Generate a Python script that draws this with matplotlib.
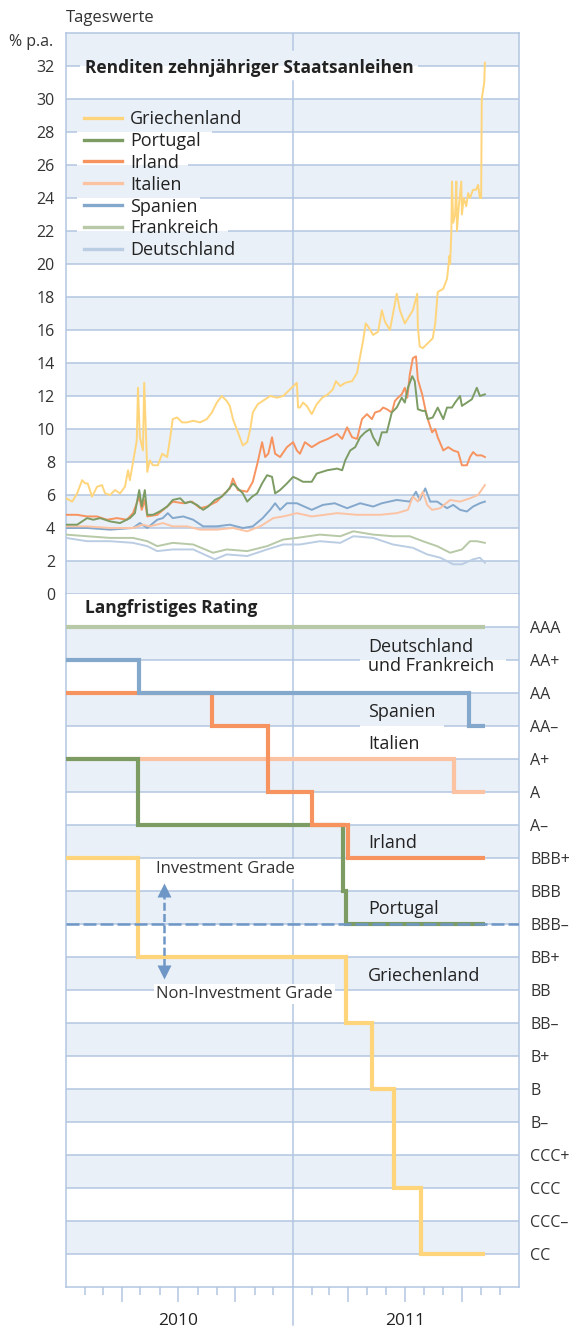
import numpy as np
import pandas as pd
import matplotlib
matplotlib.use('Agg')
import matplotlib.pyplot as plt
from matplotlib.lines import Line2D

plt.rcParams['font.family'] = ['Open Sans', 'DejaVu Sans']

# Renditen zehnjaehriger Staatsanleihen, Tage seit 1.1.2010 / % p.a.
gr_days = [0, 10, 18, 26, 31, 35, 42, 50, 58, 63, 71, 79, 87, 95, 100, 103, 108, 114, 116, 119,
           124, 126, 131, 135, 140, 148, 155, 163, 168, 172, 179, 187, 195, 205, 216, 227, 235,
           243, 251, 259, 264, 269, 277, 285, 292, 297, 301, 309, 317, 329, 340, 350, 361, 372,
           374, 377, 382, 388, 396, 404, 413, 422, 430, 435, 442, 450, 461, 469, 474, 479, 483,
           487, 495, 503, 509, 514, 522, 527, 533, 538, 546, 551, 559, 566, 567, 570, 575, 583,
           591, 595, 599, 608, 614, 618, 619, 621, 622, 624, 627, 629, 630, 633, 637, 638, 641,
           645, 648, 651, 656, 661, 664, 667, 669, 670, 672, 674, 675]
gr_vals = [5.8, 5.6, 6.1, 6.9, 6.7, 6.7, 5.9, 6.5, 6.6, 6.1, 6.0, 6.3, 6.1, 6.5, 7.5, 6.9, 8.0, 9.3, 12.5, 9.5,
           8.7, 12.8, 7.4, 8.1, 7.8, 7.8, 8.5, 8.3, 9.5, 10.6, 10.7, 10.4, 10.4, 10.5, 10.4, 10.6, 11.0,
           11.6, 12.0, 11.7, 11.4, 10.6, 9.8, 9.0, 9.2, 10.0, 11.0, 11.5, 11.7, 12.0, 11.9, 12.0, 12.4, 12.8,
           11.3, 11.3, 11.6, 11.4, 10.9, 11.5, 11.9, 12.1, 12.4, 12.9, 12.6, 12.8, 12.9, 13.4, 14.4, 15.4, 16.4,
           16.2, 15.7, 15.9, 17.2, 16.5, 16.0, 17.0, 18.2, 17.2, 16.4, 16.7, 17.2, 18.2, 16.2, 15.0, 14.9, 15.2,
           15.5, 16.4, 18.3, 18.5, 19.1, 20.5, 20.0, 22.0, 25.0, 22.5, 23.0, 25.0, 22.0, 23.5, 25.0, 23.0, 24.0,
           23.5, 24.3, 24.0, 24.5, 24.5, 24.8, 24.0, 24.0, 30.0, 30.5, 31.0, 32.2]

pt_days = [0, 18, 34, 44, 55, 71, 87, 103, 111, 118, 122, 127, 131, 140, 151, 163, 172, 184, 192, 200,
           211, 221, 229, 240, 251, 259, 269, 277, 285, 292, 300, 308, 316, 324, 332, 337, 345, 356,
           366, 372, 382, 396, 404, 421, 437, 445, 450, 458, 466, 474, 482, 490, 495, 503, 509, 517,
           525, 533, 541, 546, 551, 558, 562, 567, 574, 579, 583, 591, 599, 608, 614, 622, 627, 635,
           638, 646, 654, 662, 667, 675]
pt_vals = [4.2, 4.2, 4.6, 4.5, 4.6, 4.4, 4.3, 4.6, 4.9, 6.3, 5.3, 6.3, 4.8, 4.8, 5.0, 5.3, 5.7, 5.8, 5.5, 5.6,
           5.4, 5.1, 5.3, 5.7, 5.9, 6.2, 6.7, 6.4, 6.1, 5.6, 5.9, 6.1, 6.7, 7.2, 7.1, 6.1, 6.3, 6.7,
           7.1, 7.0, 6.8, 6.8, 7.3, 7.5, 7.6, 7.5, 8.1, 8.7, 8.9, 9.5, 9.8, 10.0, 9.5, 9.0, 9.8, 9.8,
           11.0, 11.3, 11.9, 11.6, 12.5, 13.2, 12.9, 11.2, 11.1, 11.1, 10.6, 10.7, 11.3, 10.6, 11.3, 11.3, 11.6, 12.0,
           11.4, 11.6, 11.8, 12.5, 12.0, 12.1]

ie_days = [0, 18, 34, 50, 66, 82, 98, 108, 118, 122, 127, 131, 147, 163, 172, 189, 203, 216, 227, 243,
           253, 264, 269, 277, 292, 301, 309, 316, 321, 326, 332, 337, 345, 356, 366, 372, 377, 385,
           396, 409, 422, 437, 445, 453, 461, 469, 477, 485, 493, 498, 506, 511, 517, 525, 530, 535,
           541, 546, 550, 554, 559, 564, 567, 574, 579, 583, 590, 595, 599, 608, 616, 624, 632, 638,
           646, 651, 656, 662, 670, 675]
ie_vals = [4.8, 4.8, 4.7, 4.7, 4.5, 4.6, 4.5, 4.9, 5.9, 5.1, 5.7, 4.7, 4.8, 5.3, 5.6, 5.5, 5.6, 5.2, 5.3, 5.6,
           6.0, 6.4, 7.0, 6.3, 6.2, 6.8, 8.0, 9.2, 8.3, 8.5, 9.5, 8.5, 8.3, 8.9, 9.2, 8.7, 8.5, 9.2,
           8.9, 9.2, 9.4, 9.7, 9.4, 10.1, 9.5, 9.4, 10.6, 10.9, 10.6, 11.0, 11.1, 11.3, 11.2, 11.0, 11.7, 11.9,
           12.1, 12.5, 11.9, 13.3, 14.3, 14.4, 13.0, 12.1, 11.2, 10.6, 9.8, 10.0, 9.5, 8.7, 8.9, 8.7, 8.6, 7.8,
           7.8, 8.3, 8.6, 8.4, 8.4, 8.3]

it_days = [0, 34, 71, 108, 124, 135, 156, 172, 195, 216, 243, 269, 292, 313, 334, 350, 372, 396, 437, 469,
           506, 533, 551, 559, 567, 575, 582, 590, 603, 619, 635, 651, 664, 675]
it_vals = [4.1, 4.1, 4.0, 4.0, 4.2, 4.1, 4.3, 4.1, 4.1, 3.9, 3.9, 4.0, 3.8, 4.1, 4.6, 4.7, 4.9, 4.7, 4.9, 4.8,
           4.8, 4.9, 5.1, 5.9, 5.6, 6.2, 5.4, 5.1, 5.2, 5.7, 5.6, 5.8, 6.0, 6.6]

es_days = [0, 34, 71, 108, 119, 131, 147, 156, 164, 172, 189, 205, 221, 243, 264, 285, 301, 317, 329, 337,
           345, 356, 372, 396, 414, 433, 453, 474, 495, 509, 533, 554, 564, 570, 579, 587, 598, 614,
           624, 635, 646, 656, 667, 675]
es_vals = [4.0, 4.0, 3.9, 4.0, 4.3, 4.0, 4.5, 4.6, 4.9, 4.6, 4.7, 4.5, 4.1, 4.1, 4.2, 4.0, 4.1, 4.6, 5.1, 5.5,
           5.1, 5.5, 5.5, 5.1, 5.4, 5.5, 5.2, 5.5, 5.3, 5.5, 5.7, 5.6, 6.2, 5.7, 6.4, 5.6, 5.6, 5.2,
           5.4, 5.1, 5.0, 5.3, 5.5, 5.6]

fr_days = [0, 34, 71, 108, 131, 147, 172, 205, 237, 259, 292, 324, 350, 372, 409, 442, 463, 495, 527, 554,
           575, 598, 619, 638, 651, 662, 675]
fr_vals = [3.6, 3.5, 3.4, 3.4, 3.2, 2.9, 3.1, 3.0, 2.5, 2.7, 2.6, 2.9, 3.3, 3.4, 3.6, 3.5, 3.8, 3.6, 3.5, 3.5,
           3.2, 2.9, 2.5, 2.7, 3.2, 3.2, 3.1]

de_days = [0, 34, 71, 108, 131, 147, 172, 205, 240, 259, 292, 324, 350, 377, 409, 442, 463, 495, 527, 559,
           582, 603, 624, 638, 656, 667, 675]
de_vals = [3.4, 3.2, 3.2, 3.1, 2.9, 2.6, 2.7, 2.7, 2.1, 2.4, 2.3, 2.7, 3.0, 3.0, 3.2, 3.1, 3.5, 3.4, 3.0, 2.8,
           2.4, 2.2, 1.8, 1.8, 2.1, 2.2, 1.9]

# Langfristiges Rating
ratings = ['AAA', 'AA+', 'AA', 'AA–', 'A+', 'A', 'A–', 'BBB+', 'BBB', 'BBB–',
           'BB+', 'BB', 'BB–', 'B+', 'B', 'B–', 'CCC+', 'CCC', 'CCC–', 'CC']

defr_r_dates = ['2010-01-01', '2011-11-07']
defr_r = ['AAA', 'AAA']
es_r_dates = ['2010-01-01', '2010-04-28', '2011-10-13', '2011-11-07']
es_r = ['AA+', 'AA', 'AA–', 'AA–']
it_r_dates = ['2010-01-01', '2011-09-19', '2011-11-07']
it_r = ['A+', 'A', 'A']
ie_r_dates = ['2010-01-01', '2010-08-24', '2010-11-23', '2011-02-02', '2011-04-01', '2011-11-07']
ie_r = ['AA', 'AA–', 'A', 'A–', 'BBB+', 'BBB+']
pt_r_dates = ['2010-01-01', '2010-04-27', '2011-03-24', '2011-03-29', '2011-11-07']
pt_r = ['A+', 'A–', 'BBB', 'BBB–', 'BBB–']
gr_r_dates = ['2010-01-01', '2010-04-27', '2011-03-29', '2011-05-09', '2011-06-13', '2011-07-27', '2011-11-07']
gr_r = ['BBB+', 'BB+', 'BB–', 'B', 'CCC', 'CC', 'CC']

BAND = '#eaf0f8'
GRID = '#b3c6e1'
TXT = '#222222'
C_GR = '#ffd57c'
C_PT = '#7c9c64'
C_IE = '#f6935f'
C_IT = '#fcc3a3'
C_ES = '#84a8cc'
C_FR = '#b7c9a7'
C_DE = '#bacde3'
C_LINE = '#6e96c6'

base = pd.Timestamp('2010-01-01')


def to_dates(days):
    return base + pd.to_timedelta(days, unit='D')


def px(x):
    # Pixel-Position -> Achsenanteil
    return (x - 66) / 453


def hgrid(ax, y, gaps=()):
    edges = [0.0] + [px(g) for pair in gaps for g in pair] + [1.0]
    for a, b in zip(edges[::2], edges[1::2]):
        ax.plot([a, b], [y, y], transform=ax.get_yaxis_transform(), color=GRID,
                lw=1.1, zorder=1, solid_capstyle='butt')


fig = plt.figure(figsize=(5.71, 13.29), dpi=100)
ax1 = fig.add_axes([66 / 571, (1329 - 594) / 1329, 453 / 571, 561 / 1329])
ax2 = fig.add_axes([66 / 571, (1329 - 1287) / 1329, 453 / 571, 693 / 1329])

x0, x1 = pd.Timestamp('2010-01-01'), pd.Timestamp('2012-01-01')
jan11 = pd.Timestamp('2011-01-01')
for ax in (ax1, ax2):
    ax.set_xlim(x0, x1)
    for s in ax.spines.values():
        s.set_color(GRID)
        s.set_linewidth(1.1)

# ---------- oberer Teil: Renditen ----------
ax1.set_ylim(0, 34)
ax1.spines['bottom'].set_visible(False)
for v in range(0, 34, 4):
    ax1.axhspan(v, v + 2, color=BAND, lw=0, zorder=0)
top_gaps = {32: [(80, 418)], 28: [(77, 212)], 26: [(77, 188)], 24: [(77, 200)], 22: [(77, 228)]}
for v in range(0, 34, 2):
    hgrid(ax1, v, top_gaps.get(v, ()))
ax1.plot([jan11, jan11], [0, 31.1], color=GRID, lw=1.1, zorder=1)
ax1.plot([jan11, jan11], [33.0, 34], color=GRID, lw=1.1, zorder=1)

series = [
    (de_days, de_vals, C_DE, 'Deutschland'),
    (fr_days, fr_vals, C_FR, 'Frankreich'),
    (es_days, es_vals, C_ES, 'Spanien'),
    (it_days, it_vals, C_IT, 'Italien'),
    (ie_days, ie_vals, C_IE, 'Irland'),
    (pt_days, pt_vals, C_PT, 'Portugal'),
    (gr_days, gr_vals, C_GR, 'Griechenland'),
]
for d, v, c, name in series:
    ax1.plot(to_dates(d), v, color=c, lw=1.4, zorder=3, solid_joinstyle='round')

ax1.set_yticks(range(0, 33, 2))
ax1.set_yticklabels([str(v) for v in range(0, 33, 2)])
ax1.tick_params(axis='y', length=0, pad=8, labelsize=11.5, labelcolor='#333333')
ax1.set_xticks([])

handles = [Line2D([], [], color=c, lw=2.4) for d, v, c, name in series[::-1]]
labels = [name for d, v, c, name in series[::-1]]
ax1.legend(handles, labels, loc='upper left', bbox_to_anchor=(84 / 571, 1 - 110 / 1329),
           bbox_transform=fig.transFigure, frameon=False, fontsize=13, handlelength=2.1,
           handletextpad=0.45, labelspacing=0.215, borderpad=0, borderaxespad=0,
           labelcolor=TXT)

ax1.text(px(85), 31.57, 'Renditen zehnjähriger Staatsanleihen', transform=ax1.get_yaxis_transform(),
         fontsize=12.5, fontweight='bold', color=TXT, va='baseline', ha='left', zorder=5)

fig.text(66 / 571, 1 - 21.5 / 1329, 'Tageswerte', fontsize=12, color='#333333', va='baseline', ha='left')
fig.text(53 / 571, 1 - 46.5 / 1329, '% p.a.', fontsize=11.5, color='#333333', va='baseline', ha='right')

# ---------- unterer Teil: Rating ----------
ax2.set_ylim(20, -1)
ax2.spines['top'].set_visible(False)
for k in range(0, 20, 2):
    ax2.axhspan(k, k + 1, color=BAND, lw=0, zorder=0)
bot_gaps = {1: [(360, 506)], 3: [(360, 444)]}
for k in range(len(ratings)):
    hgrid(ax2, k, bot_gaps.get(k, ()))
ax2.axvline(jan11, color=GRID, lw=1.1, zorder=1)

rating_lines = [
    (defr_r_dates, defr_r, C_FR),
    (it_r_dates, it_r, C_IT),
    (pt_r_dates, pt_r, C_PT),
    (ie_r_dates, ie_r, C_IE),
    (es_r_dates, es_r, C_ES),
    (gr_r_dates, gr_r, C_GR),
]
for d, r, c in rating_lines:
    ax2.plot(pd.to_datetime(d), [ratings.index(x) for x in r], drawstyle='steps-post',
             color=c, lw=3.0, zorder=3, solid_joinstyle='miter', solid_capstyle='butt')

# Grenze Investment Grade
ax2.axhline(ratings.index('BBB–'), color=C_LINE, lw=1.8, dashes=(5.2, 1.6), zorder=4)
ax_x = px(164)
ax2.plot([ax_x, ax_x], [8.0, 10.45], transform=ax2.get_yaxis_transform(), color=C_LINE,
         lw=1.8, dashes=(3.2, 1.3), zorder=4)
ax2.plot([ax_x], [7.97], transform=ax2.get_yaxis_transform(), marker='^', ms=9.5,
         color=C_LINE, mec='none', zorder=4)
ax2.plot([ax_x], [10.45], transform=ax2.get_yaxis_transform(), marker='v', ms=9.5,
         color=C_LINE, mec='none', zorder=4)

yt = ax2.get_yaxis_transform()
box = dict(facecolor='white', edgecolor='none', pad=1.5)
ax2.text(px(156), 7.45, 'Investment Grade', transform=yt, fontsize=12, color='#333333',
         va='baseline', ha='left', bbox=box, zorder=5)
ax2.text(px(156), 11.24, 'Non-Investment Grade', transform=yt, fontsize=12, color='#333333',
         va='baseline', ha='left', bbox=box, zorder=5)

labels_r = [('Deutschland', 0.76), ('und Frankreich', 1.33), ('Spanien', 2.73), ('Italien', 3.70),
            ('Irland', 6.70), ('Portugal', 8.70), ('Griechenland', 10.72)]
for s, y in labels_r:
    ax2.text(px(368), y, s, transform=yt, fontsize=13, color=TXT, va='baseline', ha='left', zorder=5)

ax2.text(px(85), -0.42, 'Langfristiges Rating', transform=yt, fontsize=12.5, fontweight='bold',
         color=TXT, va='baseline', ha='left', zorder=5)

ax2.yaxis.tick_right()
ax2.set_yticks(range(len(ratings)))
ax2.set_yticklabels(ratings)
ax2.tick_params(axis='y', length=0, pad=8, labelsize=11.5, labelcolor='#333333')

quarters = pd.to_datetime(['2010-04-01', '2010-07-01', '2010-10-01',
                           '2011-04-01', '2011-07-01', '2011-10-01'])
months = [m for m in pd.date_range('2010-02-01', '2011-12-01', freq='MS')
          if m not in quarters and m != jan11]
ax2.set_xticks(quarters)
ax2.set_xticklabels([''] * len(quarters))
ax2.set_xticks(months, minor=True)
ax2.tick_params(axis='x', which='major', length=10.8, width=1.1, color=GRID, direction='out')
ax2.tick_params(axis='x', which='minor', length=5.8, width=1.1, color=GRID, direction='out')
ax2.plot([jan11, jan11], [0, -38 / 693], transform=ax2.get_xaxis_transform(), color=GRID,
         lw=1.1, clip_on=False)
for yr in ['2010-07-01', '2011-07-01']:
    ax2.text(pd.Timestamp(yr), -38 / 693, yr[:4], transform=ax2.get_xaxis_transform(),
             fontsize=12.5, color=TXT, ha='center', va='baseline')

fig.savefig('out.png', dpi=100)
